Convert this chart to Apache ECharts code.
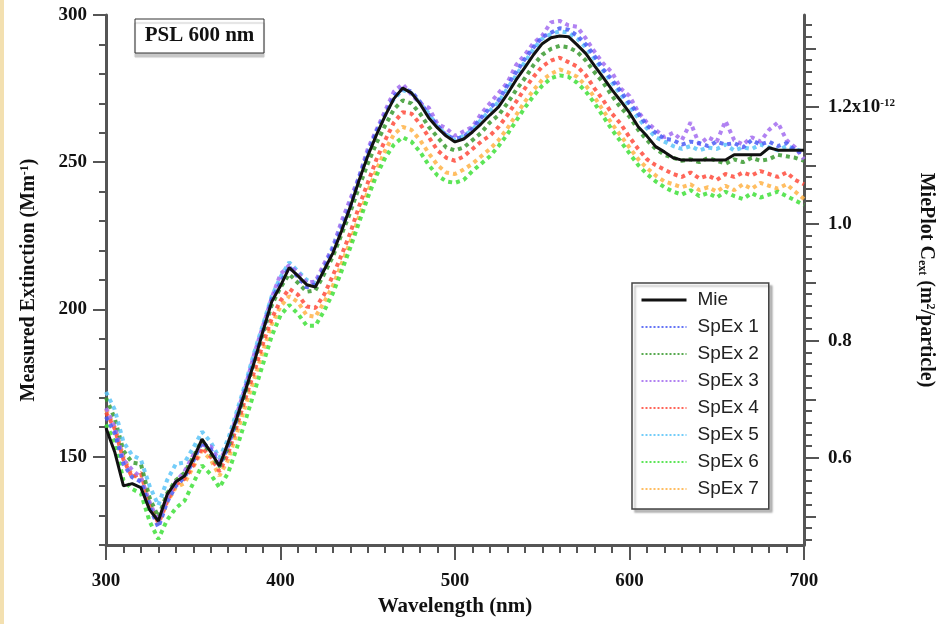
<!DOCTYPE html>
<html>
<head>
<meta charset="utf-8">
<script src="https://cdn.jsdelivr.net/npm/echarts@6/dist/echarts.min.js"></script>
<style>
  html, body { margin: 0; padding: 0; background: #fff; }
  #chart { width: 944px; height: 624px; }
</style>
</head>
<body>
<div id="chart"></div>
<script>
// wavelength grid (nm)
const wavelength = [
  300, 305, 310, 315, 320, 325, 330, 335, 340, 345, 350, 355, 360, 365, 370, 375, 380, 385, 390, 395,
  400, 405, 410, 415, 420, 425, 430, 435, 440, 445, 450, 455, 460, 465, 470, 475, 480, 485, 490, 495,
  500, 505, 510, 515, 520, 525, 530, 535, 540, 545, 550, 555, 560, 565, 570, 575, 580, 585, 590, 595,
  600, 605, 610, 615, 620, 625, 630, 635, 640, 645, 650, 655, 660, 665, 670, 675, 680, 685, 690, 695, 700
];

// MiePlot Cext (x1e-12 m^2/particle), right axis
const mieCext = [
  0.651, 0.610, 0.552, 0.556, 0.549, 0.511, 0.492, 0.537, 0.559, 0.569, 0.598, 0.632, 0.610, 0.586, 0.626, 0.668, 0.716, 0.764, 0.817, 0.867,
  0.894, 0.925, 0.911, 0.896, 0.892, 0.921, 0.950, 0.988, 1.029, 1.074, 1.116, 1.152, 1.185, 1.214, 1.232, 1.224, 1.205, 1.181, 1.164, 1.150,
  1.140, 1.145, 1.157, 1.171, 1.186, 1.200, 1.222, 1.246, 1.267, 1.289, 1.308, 1.318, 1.321, 1.320, 1.306, 1.291, 1.270, 1.250, 1.229, 1.210,
  1.190, 1.166, 1.150, 1.132, 1.123, 1.113, 1.109, 1.109, 1.109, 1.109, 1.109, 1.109, 1.118, 1.118, 1.118, 1.118, 1.130, 1.126, 1.126, 1.126, 1.126
];

// measured extinction (Mm^-1), left axis
const spex1 = [
  163.5, 158.0, 147.5, 143.0, 141.5, 133.0, 126.0, 134.5, 140.0, 143.0, 148.5, 155.0, 152.5, 147.0, 153.5, 163.0, 173.5, 183.0, 193.0, 203.5,
  209.0, 214.5, 211.0, 207.5, 208.5, 214.0, 220.5, 227.5, 235.0, 244.5, 253.0, 260.5, 266.0, 272.5, 275.0, 274.0, 270.5, 266.0, 262.5, 259.0,
  258.0, 258.5, 261.5, 265.0, 268.5, 271.0, 276.0, 280.5, 285.0, 289.0, 292.5, 294.0, 295.5, 295.0, 293.0, 290.0, 286.0, 281.5, 278.0, 274.0,
  270.0, 266.5, 262.5, 260.0, 258.0, 257.5, 256.0, 257.0, 256.5, 255.5, 257.0, 256.0, 256.5, 255.0, 257.5, 256.0, 257.0, 255.5, 256.5, 254.0, 253.0
];
const spex2 = [
  170.0, 163.0, 152.0, 148.0, 147.5, 136.0, 129.5, 137.5, 142.0, 144.5, 150.0, 155.5, 151.0, 146.5, 153.0, 162.5, 172.0, 182.5, 192.0, 201.5,
  207.5, 212.0, 209.0, 206.0, 206.5, 212.0, 218.0, 225.5, 233.0, 241.5, 249.5, 256.5, 262.5, 268.0, 271.0, 270.0, 266.5, 262.0, 258.5, 255.0,
  254.0, 255.0, 257.5, 260.0, 263.5, 266.0, 270.0, 274.5, 278.5, 283.0, 286.5, 288.5, 289.5, 289.0, 287.5, 284.5, 280.5, 277.0, 272.5, 268.5,
  265.5, 261.0, 257.5, 254.5, 252.5, 251.5, 250.5, 251.0, 250.0, 251.5, 250.5, 249.5, 251.0, 250.0, 251.5, 250.5, 251.0, 252.5, 252.0, 251.5, 250.5
];
const spex3 = [
  166.5, 160.0, 149.0, 145.5, 143.0, 134.5, 128.0, 136.0, 141.5, 145.0, 150.5, 154.0, 153.5, 148.5, 154.0, 164.5, 174.0, 185.0, 194.5, 204.0,
  212.0, 215.0, 212.5, 209.0, 209.5, 215.5, 221.0, 230.0, 237.5, 245.0, 254.5, 261.0, 267.5, 274.0, 276.5, 273.0, 270.0, 268.5, 263.0, 261.5,
  259.0, 260.5, 262.0, 266.5, 270.0, 273.5, 277.0, 283.0, 286.5, 290.5, 293.0, 297.5, 298.0, 296.5, 296.0, 292.0, 287.5, 283.5, 280.5, 275.0,
  272.5, 267.0, 263.5, 261.0, 258.5, 260.0, 257.5, 263.5, 256.0, 258.5, 257.0, 264.0, 257.5, 256.0, 258.5, 257.0, 261.0, 263.5, 257.5, 255.0, 251.0
];
const spex4 = [
  165.0, 159.5, 149.0, 143.0, 144.5, 133.5, 127.5, 135.0, 140.5, 142.5, 147.0, 153.0, 150.0, 145.0, 151.0, 160.5, 170.0, 179.0, 188.5, 197.0,
  203.0, 207.0, 205.0, 201.0, 200.5, 205.0, 211.5, 218.5, 226.0, 235.0, 243.0, 251.0, 257.5, 263.5, 267.0, 266.5, 263.0, 258.5, 254.0, 251.5,
  250.5, 252.0, 254.5, 257.0, 259.0, 262.0, 266.0, 270.5, 275.0, 279.0, 282.5, 284.5, 285.5, 284.0, 282.5, 279.5, 275.0, 271.0, 266.5, 263.0,
  258.5, 254.5, 251.0, 249.0, 247.5, 246.0, 245.0, 246.5, 244.5, 245.5, 244.0, 246.0, 245.0, 246.5, 245.5, 247.0, 246.0, 245.0, 246.5, 244.0, 242.5
];
const spex5 = [
  172.0, 166.0, 155.0, 150.5, 149.0, 140.0, 133.5, 142.0, 147.5, 148.0, 153.0, 158.5, 155.0, 149.5, 156.0, 165.5, 175.0, 185.5, 195.0, 204.5,
  211.0, 216.0, 213.0, 210.0, 209.0, 214.5, 221.5, 229.0, 236.5, 245.0, 253.5, 260.0, 266.5, 271.5, 274.5, 273.5, 270.0, 266.5, 262.0, 259.5,
  257.5, 259.0, 261.0, 264.5, 267.5, 270.5, 275.0, 279.5, 284.0, 288.5, 292.0, 293.5, 294.5, 294.0, 292.0, 289.0, 285.0, 281.0, 277.0, 273.0,
  269.0, 265.0, 261.5, 258.5, 257.0, 255.5, 254.5, 255.5, 254.0, 255.0, 254.5, 256.0, 254.0, 255.0, 254.5, 256.0, 255.0, 254.0, 255.5, 254.5, 253.5
];
const spex6 = [
  161.0, 155.0, 142.0, 139.0, 137.5, 128.0, 122.0, 128.5, 132.5, 135.0, 141.0, 147.0, 144.0, 139.5, 144.5, 153.0, 162.5, 172.0, 181.5, 191.0,
  198.0, 201.5, 198.5, 194.5, 194.5, 199.5, 205.5, 213.0, 221.0, 229.5, 238.0, 245.5, 251.5, 256.0, 258.5, 257.0, 253.5, 249.0, 245.5, 243.5,
  243.0, 244.0, 247.0, 249.5, 252.0, 255.5, 259.5, 264.0, 268.5, 272.5, 276.0, 278.5, 279.5, 279.0, 277.0, 274.0, 270.0, 265.5, 261.0, 257.0,
  253.0, 249.0, 246.0, 243.5, 241.5, 240.0, 239.0, 240.5, 238.5, 239.5, 238.0, 240.0, 238.5, 237.5, 239.5, 238.0, 239.0, 240.0, 238.5, 237.0, 235.5
];
const spex7 = [
  166.0, 160.0, 150.0, 143.5, 143.0, 134.0, 127.0, 134.5, 139.5, 141.0, 146.5, 152.0, 149.0, 143.5, 149.0, 158.0, 167.5, 176.5, 186.0, 195.0,
  201.0, 204.5, 202.5, 198.0, 197.5, 202.5, 208.0, 215.5, 223.0, 231.5, 240.0, 247.5, 254.0, 259.5, 262.0, 261.0, 257.5, 253.0, 249.0, 246.5,
  246.0, 247.5, 249.5, 252.0, 254.5, 257.5, 261.5, 266.0, 270.5, 274.5, 278.0, 280.0, 281.5, 280.5, 279.0, 276.0, 272.0, 267.5, 263.0, 259.0,
  255.0, 251.0, 248.0, 245.5, 243.5, 242.5, 241.5, 242.5, 240.5, 241.5, 240.0, 242.0, 240.5, 242.5, 241.0, 243.0, 242.0, 241.0, 242.5, 240.0, 237.5
];

const leftTicks = [150, 200, 250, 300];
const rightTicks = [0.6, 0.8, 1.0, 1.2];
const rightMidTicks = [0.5, 0.7, 0.9, 1.1, 1.3];

const serif = "'Liberation Serif', 'Times New Roman', serif";
const sans = "'Liberation Sans', Arial, sans-serif";
const axisColor = "#555";

const spexList = [
  { name: "SpEx 7", data: spex7, color: "#ffb347" },
  { name: "SpEx 6", data: spex6, color: "#3fe03a" },
  { name: "SpEx 4", data: spex4, color: "#ff4b3c" },
  { name: "SpEx 2", data: spex2, color: "#3a9a30" },
  { name: "SpEx 5", data: spex5, color: "#5cc4f8" },
  { name: "SpEx 3", data: spex3, color: "#a36cf0" },
  { name: "SpEx 1", data: spex1, color: "#4a5cf5" }
];

let minorRight = [];
for (let k = 23; k <= 67; k++) minorRight.push(k / 50);

const chart = echarts.init(document.getElementById("chart"));

let series = [];
spexList.forEach(s => {
  series.push({
    name: s.name,
    type: "line",
    yAxisIndex: 0,
    symbol: "none",
    color: s.color,
    lineStyle: { color: s.color, width: 4, type: "dotted", opacity: 0.85 },
    data: wavelength.map((w, i) => [w, s.data[i]])
  });
});
series.push({
  name: "Mie",
  type: "line",
  yAxisIndex: 2,
  symbol: "none",
  color: "#111",
  z: 5,
  lineStyle: { color: "#111", width: 3 },
  data: wavelength.map((w, i) => [w, mieCext[i]])
});

const legendNames = ["Mie", "SpEx 1", "SpEx 2", "SpEx 3", "SpEx 4", "SpEx 5", "SpEx 6", "SpEx 7"];

chart.setOption({
  animation: false,
  backgroundColor: "#fff",
  grid: { left: 106, right: 138, top: 15, bottom: 79 },
  legend: {
    orient: "vertical",
    left: 632,
    top: 283,
    padding: [7, 10, 10, 8],
    itemWidth: 45,
    itemHeight: 10,
    itemGap: 7,
    backgroundColor: "#fff",
    borderColor: "#444",
    borderWidth: 1.5,
    borderRadius: 0,
    shadowColor: "rgba(0,0,0,0.25)",
    shadowBlur: 2,
    shadowOffsetX: 3,
    shadowOffsetY: 3,
    itemStyle: { opacity: 0 },
    textStyle: { fontFamily: sans, fontSize: 19, color: "#222", lineHeight: 20, padding: [0, 0, 0, 6] },
    data: legendNames.map(n => ({ name: n, itemStyle: { opacity: 0 }, lineStyle: { width: n === "Mie" ? 3 : 2 } }))
  },
  graphic: [
    { type: "rect", left: 0, top: 0, shape: { width: 4, height: 624 }, style: { fill: "#f3e0b0" } },
    {
      type: "rect",
      shape: { x: 135, y: 19, width: 129, height: 34 },
      style: { fill: "#fff", stroke: "#333", lineWidth: 1, shadowColor: "#c8c8c8", shadowOffsetY: 4, shadowBlur: 1 }
    },
    {
      type: "text",
      x: 199.5,
      y: 36,
      style: {
        text: "PSL 600 nm",
        fill: "#111",
        font: "bold 21px " + serif,
        textAlign: "center",
        textVerticalAlign: "middle"
      }
    }
  ],
  xAxis: {
    type: "value",
    min: 300,
    max: 700,
    interval: 100,
    name: "Wavelength (nm)",
    nameLocation: "middle",
    nameGap: 50,
    nameTextStyle: { fontFamily: serif, fontWeight: "bold", fontSize: 21, color: "#111" },
    axisLine: { lineStyle: { color: axisColor, width: 3 } },
    axisTick: { length: 15, lineStyle: { color: axisColor, width: 2 } },
    minorTick: { show: true, splitNumber: 10, length: 8, lineStyle: { color: axisColor, width: 2 } },
    axisLabel: { margin: 27, fontFamily: serif, fontWeight: "bold", fontSize: 19, color: "#111" },
    splitLine: { show: false }
  },
  yAxis: [
    {
      type: "value",
      position: "left",
      min: 120,
      max: 300,
      name: "Measured Extinction (Mm{sup|-1})",
      nameLocation: "middle",
      nameGap: 67,
      nameTextStyle: {
        fontFamily: serif, fontWeight: "bold", fontSize: 20, color: "#111",
        rich: { sup: { fontFamily: serif, fontWeight: "bold", fontSize: 12, color: "#111", verticalAlign: "top" } }
      },
      axisLine: { show: true, lineStyle: { color: axisColor, width: 3 } },
      axisTick: { show: true, length: 13, customValues: leftTicks, lineStyle: { color: axisColor, width: 2 } },
      axisLabel: { margin: 19, customValues: leftTicks, fontFamily: serif, fontWeight: "bold", fontSize: 19, color: "#111" },
      splitLine: { show: false }
    },
    {
      type: "value",
      position: "left",
      min: 120,
      max: 300,
      interval: 10,
      axisLine: { show: false },
      axisTick: { show: true, length: 7, lineStyle: { color: axisColor, width: 2 } },
      axisLabel: { show: false },
      splitLine: { show: false }
    },
    {
      type: "value",
      position: "right",
      min: 0.451,
      max: 1.357,
      name: "MiePlot C{sub|ext} (m{sup|2}/particle)",
      nameLocation: "middle",
      nameRotate: -90,
      nameGap: 112,
      nameTextStyle: {
        fontFamily: serif, fontWeight: "bold", fontSize: 20, color: "#111",
        rich: {
          sub: { fontFamily: serif, fontWeight: "bold", fontSize: 12, color: "#111", verticalAlign: "bottom" },
          sup: { fontFamily: serif, fontWeight: "bold", fontSize: 12, color: "#111", verticalAlign: "top" }
        }
      },
      axisLine: { show: true, lineStyle: { color: axisColor, width: 3 } },
      axisTick: { show: true, length: 15, customValues: rightTicks, lineStyle: { color: axisColor, width: 2 } },
      axisLabel: {
        margin: 24,
        customValues: rightTicks,
        formatter: v => (Math.abs(v - 1.2) < 1e-6 ? "{n|1.2x10}{s|-12}" : "{n|" + v.toFixed(1) + "}"),
        rich: {
          n: { fontFamily: serif, fontWeight: "bold", fontSize: 19, color: "#111" },
          s: { fontFamily: serif, fontWeight: "bold", fontSize: 11, color: "#111", verticalAlign: "top" }
        }
      },
      splitLine: { show: false }
    },
    {
      type: "value",
      position: "right",
      min: 0.451,
      max: 1.357,
      axisLine: { show: false },
      axisTick: { show: true, length: 12, customValues: rightMidTicks, lineStyle: { color: axisColor, width: 2 } },
      axisLabel: { show: false },
      splitLine: { show: false }
    },
    {
      type: "value",
      position: "right",
      min: 0.451,
      max: 1.357,
      axisLine: { show: false },
      axisTick: { show: true, length: 8, customValues: minorRight, lineStyle: { color: axisColor, width: 2 } },
      axisLabel: { show: false },
      splitLine: { show: false }
    }
  ],
  series: series
});
</script>
</body>
</html>
